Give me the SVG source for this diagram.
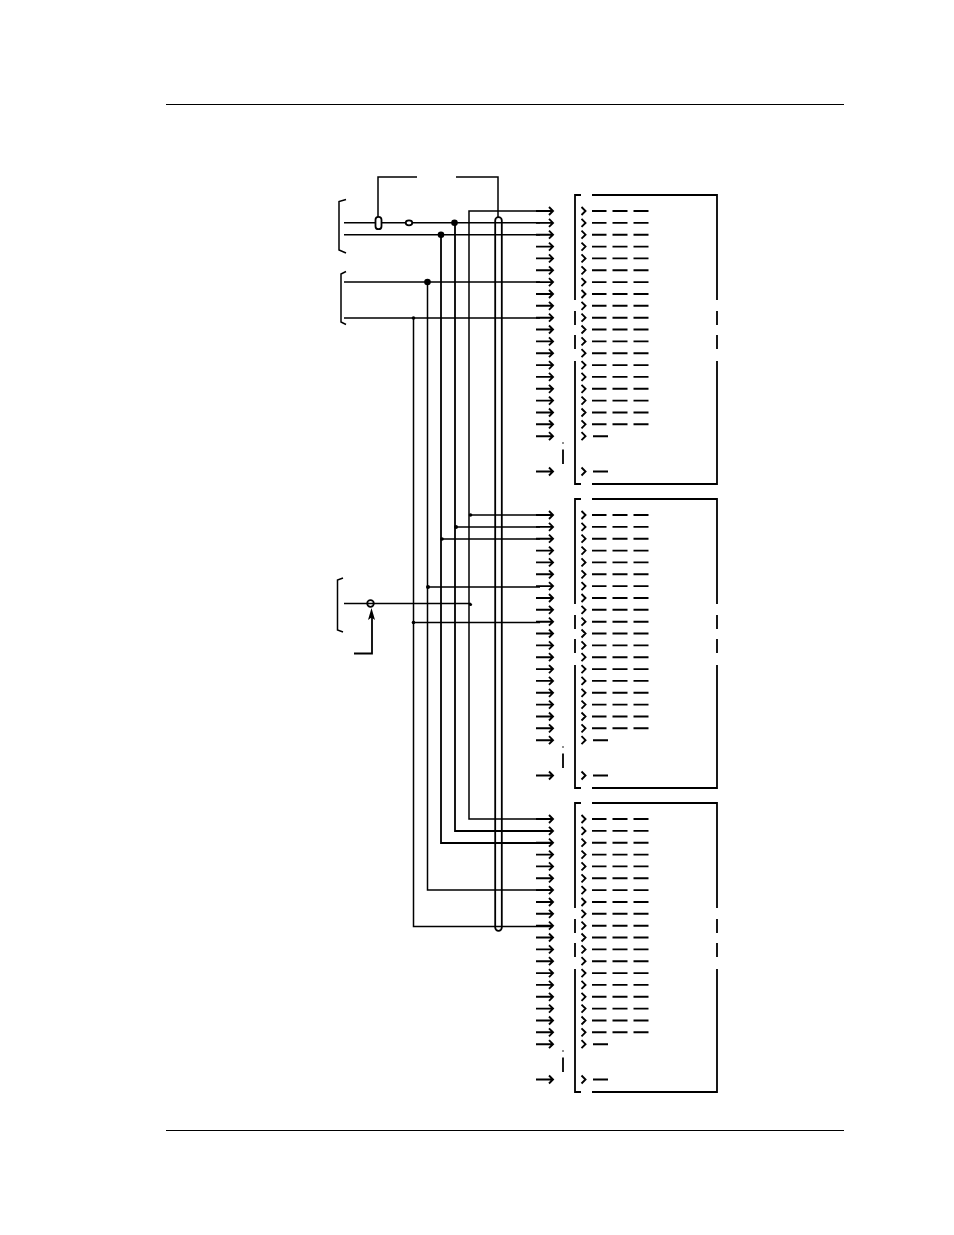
<svg xmlns="http://www.w3.org/2000/svg" xmlns:xlink="http://www.w3.org/1999/xlink" width="954" height="1235" viewBox="0 0 954 1235">
<style>
.l{fill:none;stroke:#000;stroke-width:1.5}
.t{fill:none;stroke:#000;stroke-width:1.8}
.h{fill:none;stroke:#000;stroke-width:1.9}
.d{fill:#000;stroke:none}
.o{fill:#fff;stroke:#000;stroke-width:1.8}
.c{fill:none;stroke:#000;stroke-width:1.8}
</style>
<defs>
<path id="a" class="h" d="M536 0H553M549 -4L553 0L549 4"/>
<path id="s" class="h" d="M581.500 -4L585.500 0L581.500 4M593 0H608"/>
<path id="r" class="h" d="M581.500 -4L585.500 0L581.500 4M592 0H606.500M612.500 0H627.500M633.500 0H648.500"/>
<g id="panel">
<path class="t" d="M581 195H575V300M575 311V325M575 335V349M575 361V484H581M592 195H717V300M717 311V325M717 335V349M717 361V484H592"/>
<path class="t" d="M563 449.500V464"/>
<circle class="d" cx="563" cy="443" r="0.800"/>
<use href="#a" y="211"/><use href="#r" y="211"/>
<use href="#a" y="222.900"/><use href="#r" y="222.900"/>
<use href="#a" y="234.700"/><use href="#r" y="234.700"/>
<use href="#a" y="246.600"/><use href="#r" y="246.600"/>
<use href="#a" y="258.400"/><use href="#r" y="258.400"/>
<use href="#a" y="270.300"/><use href="#r" y="270.300"/>
<use href="#a" y="282.100"/><use href="#r" y="282.100"/>
<use href="#a" y="294"/><use href="#r" y="294"/>
<use href="#a" y="305.800"/><use href="#r" y="305.800"/>
<use href="#a" y="317.700"/><use href="#r" y="317.700"/>
<use href="#a" y="329.500"/><use href="#r" y="329.500"/>
<use href="#a" y="341.400"/><use href="#r" y="341.400"/>
<use href="#a" y="353.200"/><use href="#r" y="353.200"/>
<use href="#a" y="365.100"/><use href="#r" y="365.100"/>
<use href="#a" y="376.900"/><use href="#r" y="376.900"/>
<use href="#a" y="388.800"/><use href="#r" y="388.800"/>
<use href="#a" y="400.600"/><use href="#r" y="400.600"/>
<use href="#a" y="412.500"/><use href="#r" y="412.500"/>
<use href="#a" y="424.300"/><use href="#r" y="424.300"/>
<use href="#a" y="436.200"/><use href="#s" y="436.200"/>
<use href="#a" y="471.500"/><use href="#s" y="471.500"/>
</g>
</defs>
<g id="page-rules"><path fill="none" stroke="#000" stroke-width="1.100" d="M166 104.500H844M166 1130.500H844"/></g>
<g id="connectors">
<path class="l" d="M378 217V177H417M456 177H498V217"/>
<path class="l" d="M344 222.800H540M344 234.800H540M344 282H540M344 318H540"/>
<path class="l" d="M553 211H469V819H553"/>
<path class="t" d="M455 222.800V831H553"/>
<path class="t" d="M441 234.800V843H553"/>
<path class="l" d="M427.500 282V890H553"/>
<path class="l" d="M413.500 318V926.500H553"/>
<path class="l" d="M470 515H540M456 527H540M442 539H540M428 587H540M413.500 622.500H540"/>
<path class="l" d="M344 603.500H471"/>
<path class="t" d="M354 653.500H372V614"/>
<path class="d" d="M371.500 608L375 620L371.500 617.500L368 620Z"/>
<path class="l" d="M346 199.500L339 201.500V250L346 253M346 271.500L341 274V322L346 324.500M343 578L337.500 580V630L343 632"/>
<path class="t" d="M495.200 927.500V220.500A3.300 3.300 0 0 1 501.800 220.500V927.500A3.300 3.300 0 0 1 495.200 927.500"/>
<circle class="d" cx="454.500" cy="222.800" r="3.300"/>
<circle class="d" cx="441" cy="234.800" r="3.300"/>
<circle class="d" cx="427.500" cy="282" r="3.300"/>
<circle class="d" cx="413.500" cy="318" r="1.800"/>
<circle class="d" cx="470.500" cy="515" r="1.800"/>
<circle class="d" cx="456" cy="527" r="2"/>
<circle class="d" cx="442" cy="539" r="1.800"/>
<circle class="d" cx="428" cy="587" r="2"/>
<circle class="d" cx="413.500" cy="622.500" r="1.800"/>
<circle class="d" cx="470.500" cy="604.500" r="1.600"/>
</g>
<g id="fuse-1"><rect class="o" x="375.500" y="216.800" width="6" height="12.400" rx="3" ry="3"/></g>
<g id="terminal-1"><ellipse class="o" cx="409" cy="222.800" rx="3.300" ry="2.500"/></g>
<g id="terminal-2"><circle class="c" cx="370.500" cy="603.500" r="3.300"/></g>
<g id="block-1"><use href="#panel"/></g>
<g id="block-2"><use href="#panel" y="304"/></g>
<g id="block-3"><use href="#panel" y="608"/></g>
</svg>
